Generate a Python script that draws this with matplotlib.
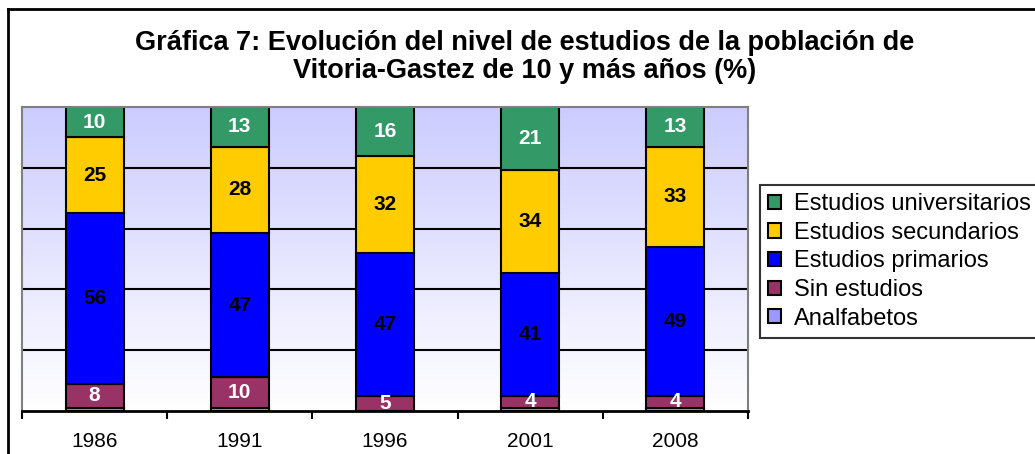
import numpy as np
import matplotlib.pyplot as plt
from matplotlib.lines import Line2D

plt.rcParams["font.family"] = ["Liberation Sans", "DejaVu Sans"]

years = ["1986", "1991", "1996", "2001", "2008"]
series = ["Analfabetos", "Sin estudios", "Estudios primarios",
          "Estudios secundarios", "Estudios universitarios"]
analfabetos = [1, 1, 0, 1, 1]
sin_estudios = [8, 10, 5, 4, 4]
primarios = [56, 47, 47, 41, 49]
secundarios = [25, 28, 32, 34, 33]
universitarios = [10, 13, 16, 21, 13]

colors = ["#9999FF", "#993366", "#0000FF", "#FFCC00", "#339966"]
label_colors = [None, "white", "black", "black", "white"]

data = np.array([analfabetos, sin_estudios, primarios, secundarios, universitarios], dtype=float)
pct = data / data.sum(axis=0) * 100

fig = plt.figure(figsize=(10.35, 4.54), dpi=100)
ax = fig.add_axes([22 / 1035, 43 / 454, 726 / 1035, 304 / 454])

# fondo degradado
grad = np.linspace(0, 1, 256).reshape(-1, 1)
top = np.array([0.80, 0.80, 1.0])
bottom = np.array([1.0, 1.0, 1.0])
img = bottom + (top - bottom) * grad[:, :, None] * np.ones((1, 1, 3))
ax.imshow(img, extent=[-0.5, 4.5, 0, 100], origin="lower", aspect="auto", zorder=0)

for y in [20, 40, 60, 80]:
    ax.axhline(y, color="black", lw=1.5, zorder=1)

x = np.arange(len(years))
base = np.zeros(len(years))
bars = []
for i in range(len(series)):
    b = ax.bar(x, pct[i], 0.4, bottom=base, color=colors[i], edgecolor="black",
               linewidth=1.5, zorder=2, label=series[i])
    bars.append(b)
    if label_colors[i]:
        for j in range(len(years)):
            ax.text(x[j], base[j] + pct[i][j] / 2, "%d" % data[i][j], ha="center", va="center",
                    color=label_colors[i], fontsize=15, fontweight="bold", zorder=3)
    base = base + pct[i]

ax.set_xlim(-0.5, 4.5)
ax.set_ylim(0, 100)
ax.set_yticks([])
ax.set_xticks(np.arange(-0.5, 5, 1))
ax.set_xticklabels([])
ax.set_xticks(x, minor=True)
ax.set_xticklabels(years, minor=True, fontsize=15)
ax.tick_params(axis="x", which="major", length=6, width=1.5, direction="out")
ax.tick_params(axis="x", which="minor", length=0, pad=15)
for s in ["top", "right", "left"]:
    ax.spines[s].set_color("#808080")
    ax.spines[s].set_linewidth(1.5)
ax.spines["bottom"].set_linewidth(2)

handles = [bars[i] for i in range(4, -1, -1)]
leg = fig.legend(handles, [series[i] for i in range(4, -1, -1)], loc="upper left",
                 bbox_to_anchor=(760 / 1035, 1 - 185 / 454), fontsize=17, frameon=True,
                 fancybox=False, edgecolor="black", handlelength=0.55, handleheight=0.55,
                 handletextpad=0.55, borderpad=0.35, labelspacing=0.28, borderaxespad=0)
leg.get_frame().set_linewidth(1.5)

fig.text(525 / 1035, 1 - 43 / 454, "Gráfica 7: Evolución del nivel de estudios de la población de",
         ha="center", va="center", fontsize=19.5, fontweight="bold")
fig.text(525 / 1035, 1 - 71 / 454, "Vitoria-Gastez de 10 y más años (%)",
         ha="center", va="center", fontsize=19.5, fontweight="bold")

# marco exterior
fig.add_artist(Line2D([8 / 1035, 8 / 1035], [0, 1 - 8.5 / 454], color="black", lw=2))
fig.add_artist(Line2D([8 / 1035, 1], [1 - 8.5 / 454, 1 - 8.5 / 454], color="black", lw=2))

fig.savefig("out.png", dpi=100)
